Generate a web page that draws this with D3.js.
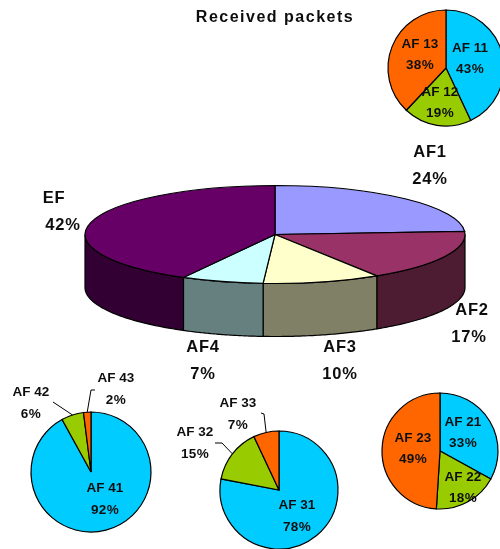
<!DOCTYPE html>
<html><head><meta charset="utf-8">
<script src="https://cdn.jsdelivr.net/npm/d3@7/dist/d3.min.js"></script>
<style>html,body{margin:0;padding:0;background:#fff}svg{display:block}text{font-family:"Liberation Sans",Arial,sans-serif;font-weight:bold;fill:#111;text-anchor:middle;dominant-baseline:middle}</style>
</head><body><svg id="c" width="500" height="549"></svg>
<script>
const titleText = "Received packets";
const mainNames = ["AF1","AF2","AF3","AF4","EF"];
const mainValues = [24,17,10,7,42];
const mainTop = ["#9999ff","#993366","#ffffcc","#ccffff","#660066"];
const mainSide = ["#4d4d80","#4d1a33","#808066","#668080","#330033"];
const mainLabelX = [430,472,340,203,54];
const mainLabelY = [153,311,348,348,199];

const pieColors = ["#00ccff","#99cc00","#ff6600"];
const af1Names = ["AF 11","AF 12","AF 13"], af1Values = [43,19,38];
const af2Names = ["AF 21","AF 22","AF 23"], af2Values = [33,18,49];
const af3Names = ["AF 31","AF 32","AF 33"], af3Values = [78,15,7];
const af4Names = ["AF 41","AF 42","AF 43"], af4Values = [92,6,2];

const miniLayouts = [
  {names:af1Names, values:af1Values, cx:446, cy:68, r:58, lx:[470,440,420], ly:[48,92,44], gap:21, leaders:[null,null,null]},
  {names:af2Names, values:af2Values, cx:440, cy:451, r:58, lx:[463,463,413], ly:[422,477,438], gap:21, leaders:[null,null,null]},
  {names:af3Names, values:af3Values, cx:279, cy:490, r:59, lx:[297,195,238], ly:[505,432,403], gap:22, leaders:[null,[[222,443],[215,443]],[[264,414],[261,413]]]},
  {names:af4Names, values:af4Values, cx:91, cy:472, r:60, lx:[105,31,116], ly:[488,392,378], gap:22, leaders:[null,[[53,402]],[[91,390],[95,390]]]}
];

const svg = d3.select("#c");
const defs = svg.append("defs");
defs.append("filter").attr("id","soft").attr("x","-5%").attr("y","-5%").attr("width","110%").attr("height","110%")
  .append("feGaussianBlur").attr("stdDeviation",0.45);
const root = svg.append("g").attr("filter","url(#soft)");

const pie = d3.pie().sort(null).value(d=>d);

// main 3D pie
const cx=275, cy=234.5, rx=190, ry=49, depth=53;
const mainArcs = pie(mainValues);
const main = root.append("g");
const clampFront = a => Math.max(Math.PI/2, Math.min(Math.PI*1.5, a));
const wallArea = d3.area()
  .x(a=>cx+rx*Math.sin(a))
  .y0(a=>cy-ry*Math.cos(a))
  .y1(a=>cy-ry*Math.cos(a)+depth);
mainArcs.forEach((d,i)=>{
  const a0=clampFront(d.startAngle), a1=clampFront(d.endAngle);
  if(a1-a0<=0) return;
  const n=48, samples=d3.range(n+1).map(k=>a0+(a1-a0)*k/n);
  main.append("path").attr("d",wallArea(samples)).attr("fill",mainSide[i]).attr("stroke","#000").attr("stroke-width",1.2);
});
const topArc = d3.arc().innerRadius(0).outerRadius(rx);
const topG = main.append("g").attr("transform",`translate(${cx},${cy}) scale(1,${ry/rx})`);
mainArcs.forEach((d,i)=>{
  topG.append("path").attr("d",topArc(d)).attr("fill",mainTop[i]).attr("stroke","#000")
    .attr("stroke-width",1.2).attr("vector-effect","non-scaling-stroke");
});
root.append("text").attr("x",275).attr("y",18).attr("font-size",16).attr("letter-spacing",1.5).text(titleText);
mainNames.forEach((n,i)=>{
  root.append("text").attr("font-size",16.5).attr("letter-spacing",0.8)
    .attr("x",mainLabelX[i]).attr("y",mainLabelY[i]).text(n);
  root.append("text").attr("font-size",16.5).attr("letter-spacing",0.8)
    .attr("x",mainLabelX[i]+(i===4?9:(i===1?-3:0))).attr("y",mainLabelY[i]+27).text(mainValues[i]+"%");
});

// small pies
miniLayouts.forEach(p=>{
  const g=root.append("g").attr("transform",`translate(${p.cx},${p.cy})`);
  const arc=d3.arc().innerRadius(0).outerRadius(p.r);
  const rim=d3.arc().innerRadius(p.r).outerRadius(p.r);
  const arcs=pie(p.values);
  arcs.forEach((d,i)=>{
    g.append("path").attr("d",arc(d)).attr("fill",pieColors[i]).attr("stroke","#000").attr("stroke-width",1.2);
  });
  arcs.forEach((d,i)=>{
    if(p.leaders[i]){
      const c=rim.centroid(d);
      const pts=[[p.cx+c[0],p.cy+c[1]],...p.leaders[i]];
      root.append("path").attr("d",d3.line()(pts)).attr("fill","none").attr("stroke","#000").attr("stroke-width",1);
    }
    root.append("text").attr("font-size",13.5).attr("x",p.lx[i]).attr("y",p.ly[i]).text(p.names[i]);
    root.append("text").attr("font-size",13.5).attr("letter-spacing",0.4).attr("x",p.lx[i]).attr("y",p.ly[i]+p.gap).text(p.values[i]+"%");
  });
});
</script></body></html>
